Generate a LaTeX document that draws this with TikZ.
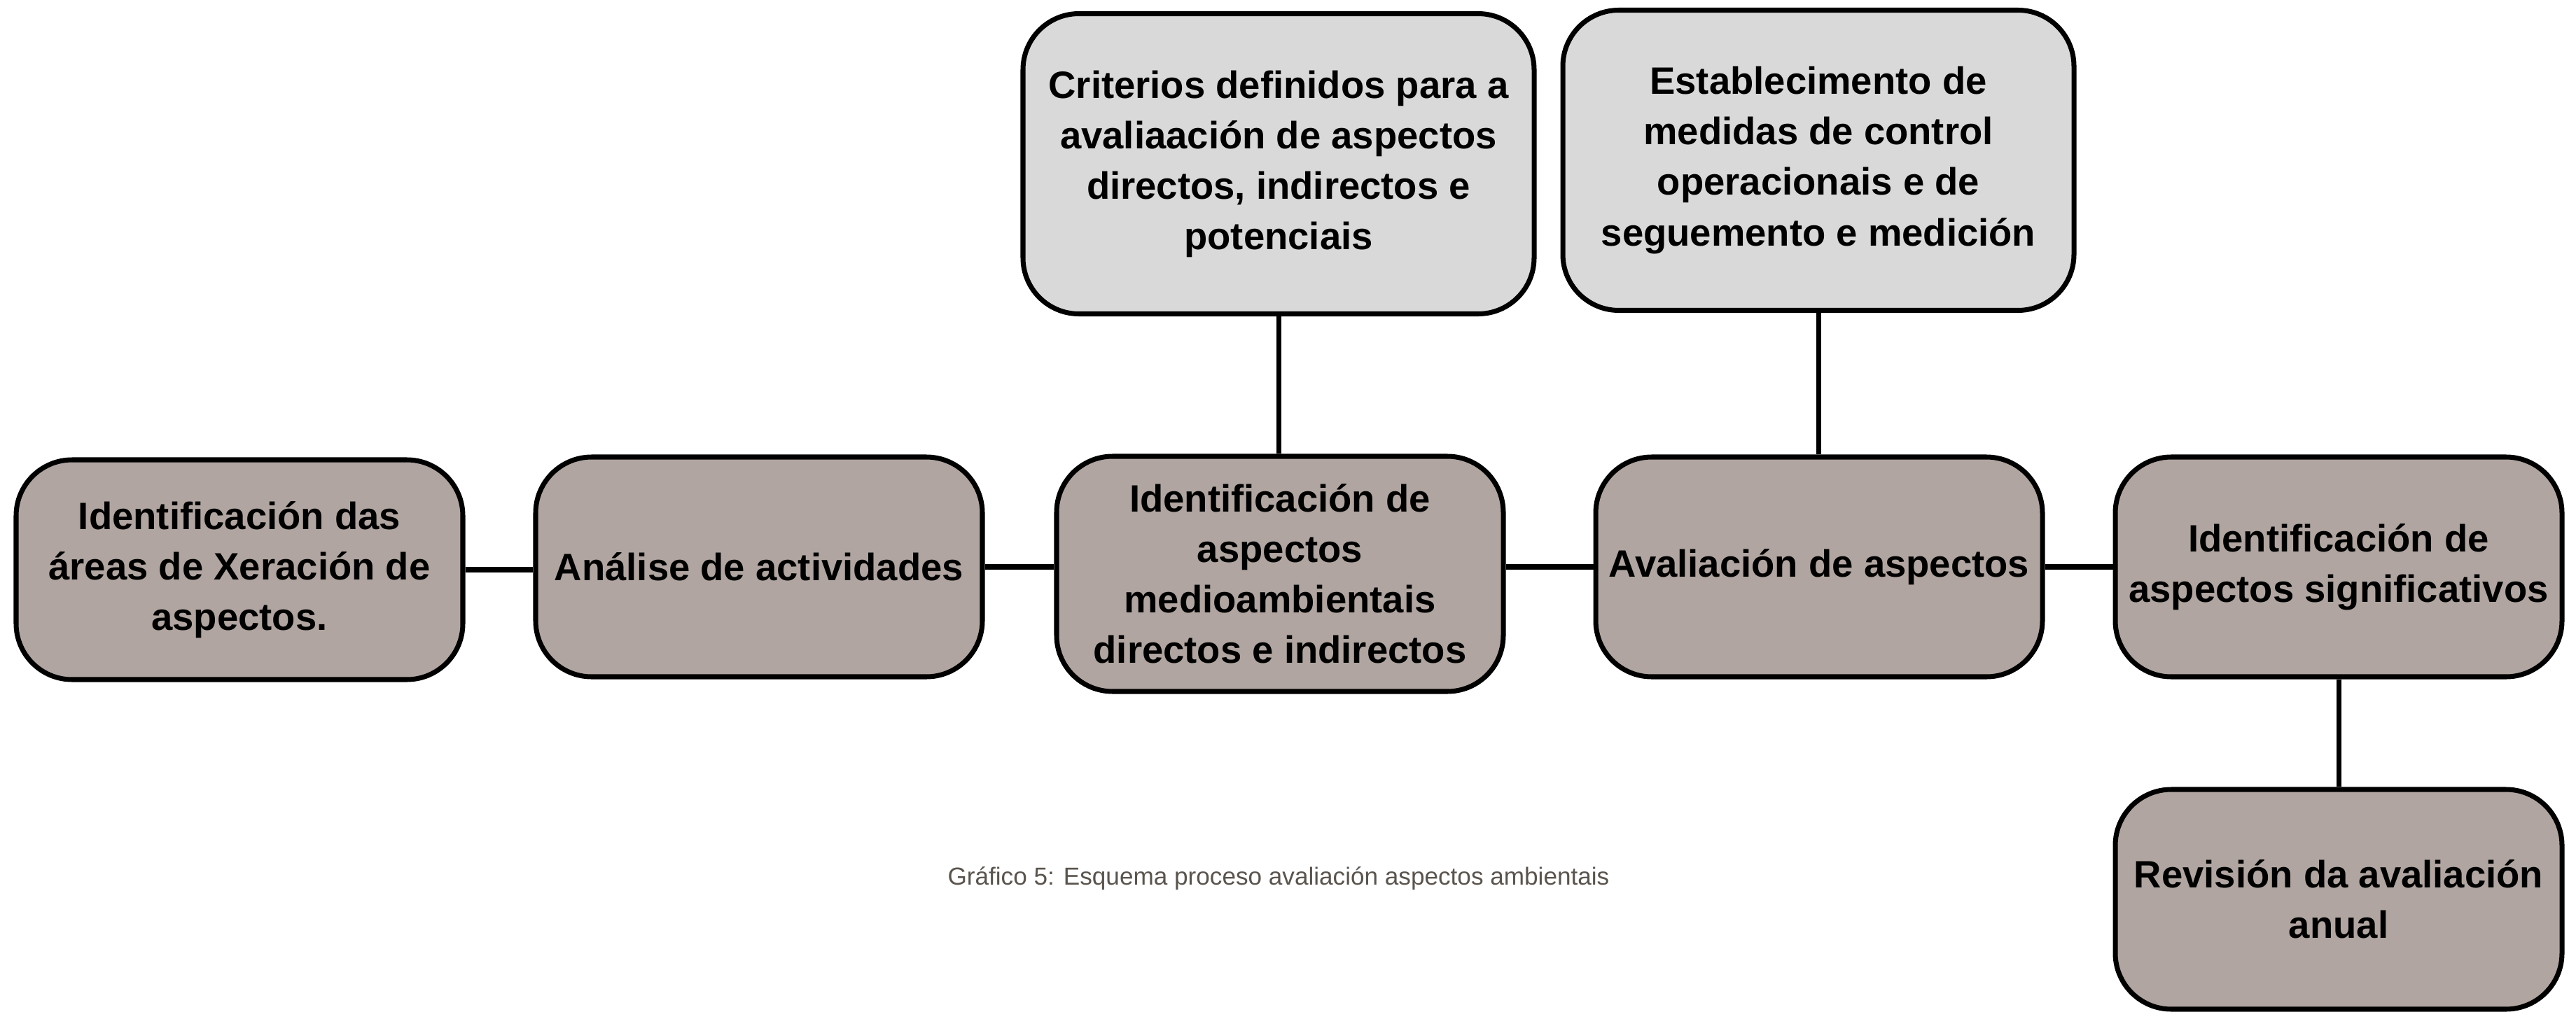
\documentclass[tikz,border=0pt]{standalone}
\usepackage{fontspec}
\setmainfont{Liberation Sans}
\usepackage{tikz}
\usetikzlibrary{positioning}

\definecolor{stepfill}{HTML}{B0A5A0}
\definecolor{critfill}{HTML}{D9D9D9}
\definecolor{captext}{HTML}{5A544E}

\tikzset{
  stage/.style={draw=black, line width=2pt, rounded corners=0.8cm, fill=stepfill,
    align=center, font=\bfseries\fontsize{15.5}{20.5}\selectfont,
    minimum width=6.38cm, minimum height=3.14cm, inner sep=2pt},
  crit/.style={stage, fill=critfill, minimum width=7.3cm, minimum height=4.29cm},
  link/.style={line width=2pt}
}

\begin{document}
\begin{tikzpicture}
    \useasboundingbox (0,0) rectangle (36.79,-14.46);

    \node[stage] (v1) at (3.42,-8.14) {Identificación das\\áreas de Xeración de\\aspectos.};
    \node[stage] (v2) at (10.84,-8.10) {Análise de actividades};
    \node[stage, minimum height=3.36cm] (v3) at (18.28,-8.20) {Identificación de\\aspectos\\medioambientais\\directos e indirectos};
    \node[stage] (v4) at (25.98,-8.10) {Avaliación de aspectos};
    \node[stage] (v5) at (33.40,-8.10) {Identificación de\\aspectos significativos};
    \node[stage] (v6) at (33.40,-12.85) {Revisión da avaliación\\anual};

    \node[crit] (c1) at (18.26,-2.34) {Criterios definidos para a\\avaliaación de aspectos\\directos, indirectos e\\potenciais};
    \node[crit] (c2) at (25.97,-2.29) {Establecimento de\\medidas de control\\operacionais e de\\seguemento e medición};

    \node[text=captext, font=\fontsize{10}{12}\selectfont] (cap) at (18.26,-12.55)
      {Gráfico 5: Esquema proceso avaliación aspectos ambientais};

    \draw[link] (v1.east) -- (v1.east -| v2.west);
    \draw[link] (v2) -- (v2 -| v3.west);
    \draw[link] (v3.east |- v4) -- (v4);
    \draw[link] (v4) -- (v5);
    \draw[link] (v5) -- (v6);
    \draw[link] (c1) -- (c1 |- v3.north);
    \draw[link] (c2) -- (c2 |- v4.north);
\end{tikzpicture}
\end{document}
